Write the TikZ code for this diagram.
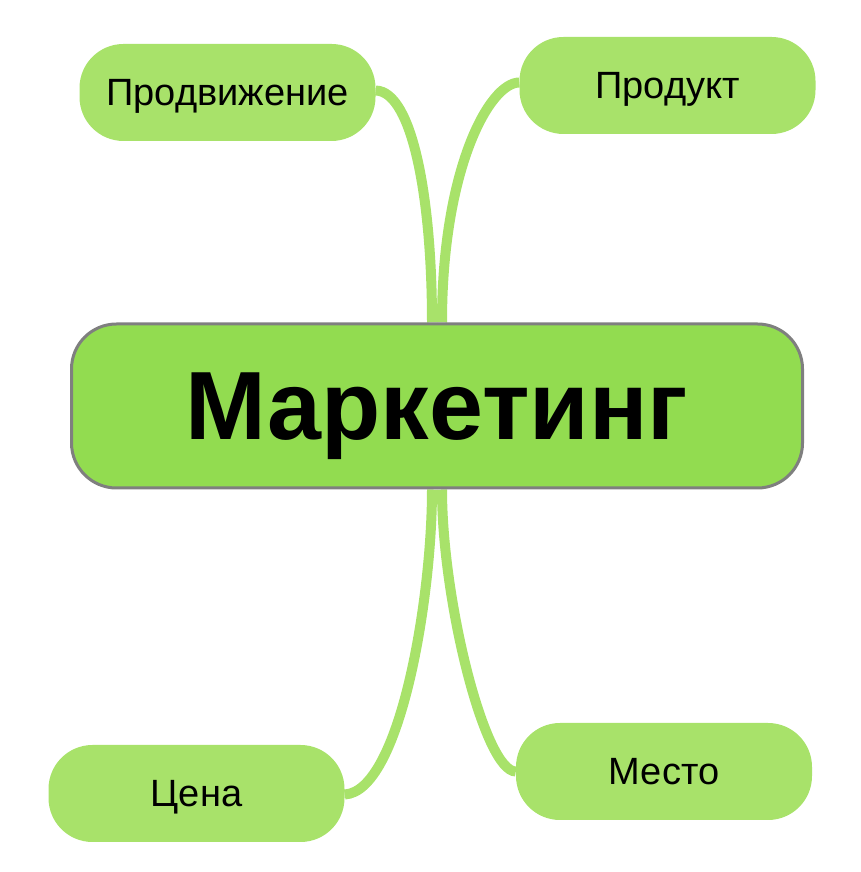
\documentclass[tikz,border=0pt]{standalone}
\usepackage{fontspec}
\setmainfont{Liberation Sans}
\usetikzlibrary{backgrounds}
\definecolor{mainfill}{HTML}{92DC50}
\definecolor{leaffill}{HTML}{A8E26A}
\definecolor{mainborder}{HTML}{7F7F7F}

\begin{document}
\begin{tikzpicture}[x=1pt,y=1pt,
    leaf/.style={fill=leaffill,rounded corners=44pt,minimum width=296pt,minimum height=97pt,inner sep=0pt,text depth=0pt,font=\fontsize{38}{44}\selectfont},
    branch/.style={draw=leaffill,line width=10pt}]
    \useasboundingbox (0,0) rectangle (860,872);
    \node[draw=mainborder,line width=3pt,fill=mainfill,rounded corners=45pt,minimum width=731pt,minimum height=164pt,inner sep=0pt,text depth=0pt,font=\bfseries\fontsize{97}{112}\selectfont] (mark) at (437,466) {Маркетинг};
    \node[leaf] (prom) at (227.5,779.5) {Продвижение};
    \node[leaf] (prodkt) at (667.5,786.5) {Продукт};
    \node[leaf] (price) at (196.5,78.5) {Цена};
    \node[leaf] (place) at (664,100.5) {Место};
    \begin{pgfonlayer}{background}
        % top branches
        \draw[branch] ([yshift=2]prom.east) .. controls +(37,-1) and +(0,123) .. ([xshift=-5]mark.north);
        \draw[branch] ([yshift=3]prodkt.west) .. controls +(-30,0) and +(0,153) .. ([xshift=5]mark.north);
        % bottom branches
        \draw[branch] ([xshift=-5]mark.south) .. controls +(0,-111) and +(55,3) .. ([yshift=-1]price.east);
        \draw[branch] ([xshift=5]mark.south) .. controls +(0,-111) and +(-31,0) .. (place.west);
    \end{pgfonlayer}
\end{tikzpicture}
\end{document}
